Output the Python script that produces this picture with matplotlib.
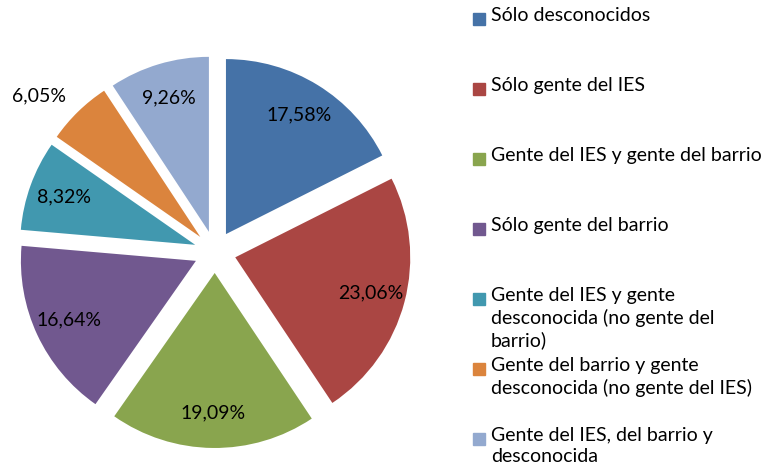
import matplotlib.pyplot as plt
from matplotlib.patches import Rectangle

labels = [
    "Sólo desconocidos",
    "Sólo gente del IES",
    "Gente del IES y gente del barrio",
    "Sólo gente del barrio",
    "Gente del IES y gente\ndesconocida (no gente del\nbarrio)",
    "Gente del barrio y gente\ndesconocida (no gente del IES)",
    "Gente del IES, del barrio y\ndesconocida",
]
values = [17.58, 23.06, 19.09, 16.64, 8.32, 6.05, 9.26]
colors = ["#4572A7", "#AA4643", "#89A54E", "#71588F", "#4198AF", "#DB843D", "#93A9CF"]

plt.rcParams["font.family"] = ["Lato", "DejaVu Sans"]

fig = plt.figure(figsize=(7.63, 4.75), dpi=100)
ax = fig.add_axes([-0.005, 0.009, 437.5 / 763, 437.5 / 475])

wedges, texts, pcts = ax.pie(
    values, colors=colors, startangle=90, counterclock=False,
    explode=[0.12] * len(values),
    autopct=lambda p: f"{p:.2f}%".replace(".", ","),
    pctdistance=0.8, textprops={"fontsize": 14, "color": "black"},
)
# the small orange slice gets its label outside
x, y = pcts[5].get_position()
pcts[5].set_position((x * 1.57, y * 1.35))

ax.set_xlim(-1.25, 1.25)
ax.set_ylim(-1.25, 1.25)
ax.set_aspect("equal")
ax.axis("off")

# legend, one entry every 70 px
for i, (lab, col) in enumerate(zip(labels, colors)):
    ycen = 475 - (19 + 70 * i)
    fig.patches.append(Rectangle((473 / 763, (ycen - 6) / 475), 12 / 763, 12 / 475,
                                 transform=fig.transFigure, color=col))
    fig.text(491 / 763, (ycen + 12) / 475, lab, fontsize=14, va="top", ha="left",
             linespacing=1.32)

fig.savefig("out.png", dpi=100)
